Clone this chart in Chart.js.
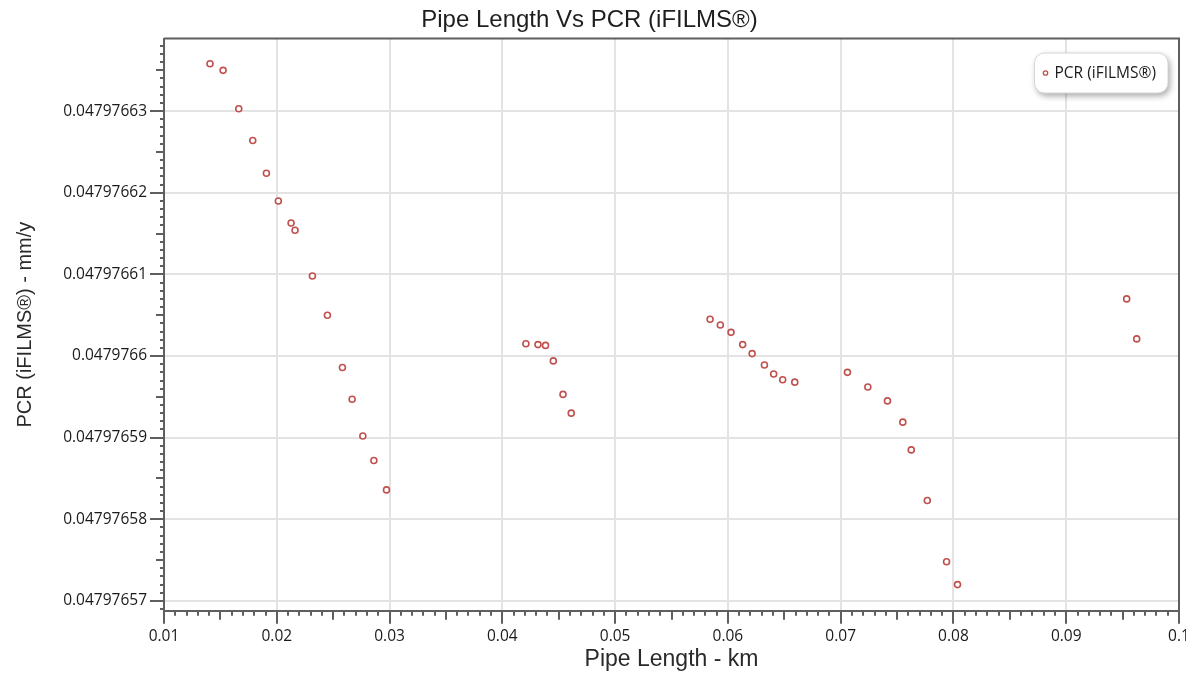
<!DOCTYPE html>
<html>
<head>
<meta charset="utf-8">
<title>Pipe Length Vs PCR</title>
<script src="https://cdn.jsdelivr.net/npm/chart.js@4/dist/chart.umd.min.js"></script>
<style>
  html, body { margin: 0; padding: 0; background: #fff; }
  #wrap { width: 1186px; height: 677px; position: relative; }
</style>
</head>
<body>
<div id="wrap"><canvas id="pcr-chart"></canvas></div>
<script>
const CHART_TITLE = "Pipe Length Vs PCR (iFILMS®)";
const SERIES_LABEL = "PCR (iFILMS®)";
const X_TITLE = "Pipe Length - km";
const Y_TITLE = "PCR (iFILMS®) - mm/y";

// pipe length (km)
const pipeLength = [
  0.01408, 0.01524, 0.01663, 0.01787, 0.01908, 0.02014, 0.02127, 0.02162, 0.02316, 0.02449,
  0.02582, 0.02668, 0.02763, 0.02861, 0.02973,
  0.04209, 0.04316, 0.04383, 0.04452, 0.04538, 0.04611,
  0.05842, 0.05933, 0.06028, 0.06131, 0.06215, 0.06324, 0.06406, 0.06486, 0.06593,
  0.07060, 0.07241, 0.07415, 0.07551, 0.07626, 0.07768, 0.07939, 0.08036,
  0.09536, 0.09625
];
// PCR (mm/y)
const pcr = [
  0.0479766358, 0.0479766350, 0.0479766303, 0.0479766264, 0.0479766224, 0.0479766190, 0.0479766163, 0.0479766154, 0.0479766098, 0.0479766050,
  0.0479765986, 0.0479765947, 0.0479765902, 0.0479765872, 0.0479765836,
  0.0479766015, 0.0479766014, 0.0479766013, 0.0479765994, 0.0479765953, 0.0479765930,
  0.0479766045, 0.0479766038, 0.0479766029, 0.0479766014, 0.0479766003, 0.0479765989, 0.0479765978, 0.0479765971, 0.0479765968,
  0.0479765980, 0.0479765962, 0.0479765945, 0.0479765919, 0.0479765885, 0.0479765823, 0.0479765748, 0.0479765720,
  0.0479766070, 0.0479766021
];

const xTicks = [0.01, 0.02, 0.03, 0.04, 0.05, 0.06, 0.07, 0.08, 0.09, 0.1];
const yTicks = [0.04797657, 0.04797658, 0.04797659, 0.0479766, 0.04797661, 0.04797662, 0.04797663];
const xMin = 0.01, xMax = 0.1;
const yMin = 0.0479765688, yMax = 0.0479766389;
const xMinorStep = 0.001;
const yMinorStep = 1e-9;

const AXIS_COLOR = "#5f5f5f";
const POINT_COLOR = "#c0504d";

// minor / medium / major tick marks plus the top and right frame
const tickMarks = {
  id: "tickMarks",
  beforeDatasetsDraw(chart) {
    const ctx = chart.ctx;
    const area = chart.chartArea;
    const xs = chart.scales.x;
    const ys = chart.scales.y;
    ctx.save();
    ctx.strokeStyle = AXIS_COLOR;
    ctx.lineWidth = 2;

    ctx.beginPath();
    ctx.moveTo(area.left, area.top);
    ctx.lineTo(area.right, area.top);
    ctx.lineTo(area.right, area.bottom);
    ctx.stroke();

    const yk0 = Math.ceil(ys.min / yMinorStep - 1e-6);
    const yk1 = Math.floor(ys.max / yMinorStep + 1e-6);
    for (let k = yk0; k <= yk1; k++) {
      const len = k % 10 === 0 ? 14 : (k % 5 === 0 ? 8 : 4);
      const y = Math.round(ys.getPixelForValue(k * yMinorStep));
      ctx.beginPath();
      ctx.moveTo(area.left - len, y);
      ctx.lineTo(area.left, y);
      ctx.stroke();
    }

    const xk0 = Math.ceil(xs.min / xMinorStep - 1e-6);
    const xk1 = Math.floor(xs.max / xMinorStep + 1e-6);
    for (let k = xk0; k <= xk1; k++) {
      const len = k % 10 === 0 ? 13 : (k % 5 === 0 ? 9 : 5);
      const x = Math.round(xs.getPixelForValue(k * xMinorStep));
      ctx.beginPath();
      ctx.moveTo(x, area.bottom);
      ctx.lineTo(x, area.bottom + len);
      ctx.stroke();
    }
    ctx.restore();
  },
};

// legend box inside the plot, top right
const boxLegend = {
  id: "boxLegend",
  afterDraw(chart) {
    const ctx = chart.ctx;
    const area = chart.chartArea;
    const ds = chart.data.datasets[0];
    ctx.save();
    ctx.font = '15.5px "Open Sans"';
    const textW = ctx.measureText(ds.label).width;
    const w = 20 + textW + 12;
    const h = 40;
    const right = area.right - 11;
    const left = right - w;
    const top = area.top + 14.5;

    ctx.shadowColor = "rgba(0,0,0,0.35)";
    ctx.shadowBlur = 6;
    ctx.shadowOffsetX = 2;
    ctx.shadowOffsetY = 3;
    ctx.fillStyle = "#fff";
    ctx.beginPath();
    ctx.roundRect(left, top, w, h, 10);
    ctx.fill();
    ctx.shadowColor = "transparent";
    ctx.strokeStyle = "#d6d6d6";
    ctx.lineWidth = 1;
    ctx.stroke();

    ctx.beginPath();
    ctx.arc(left + 11, top + h / 2, 2.2, 0, Math.PI * 2);
    ctx.fillStyle = "#fff";
    ctx.fill();
    ctx.strokeStyle = ds.borderColor;
    ctx.lineWidth = 1.3;
    ctx.stroke();

    ctx.fillStyle = "#1a1a1a";
    ctx.textBaseline = "middle";
    ctx.textAlign = "left";
    ctx.fillText(ds.label, left + 20, top + h / 2 + 1);
    ctx.restore();
  },
};

const fmt = (v, d) => String(Number(v.toFixed(d)));

const ctx = document.getElementById("pcr-chart").getContext("2d");
const chart = new Chart(ctx, {
  type: "scatter",
  data: {
    datasets: [
      {
        label: SERIES_LABEL,
        data: pipeLength.map((x, i) => ({ x: x, y: pcr[i] })),
        pointStyle: "circle",
        pointRadius: 3,
        pointBorderWidth: 1.6,
        borderColor: POINT_COLOR,
        backgroundColor: "#fff",
        pointHoverRadius: 3,
      },
    ],
  },
  plugins: [tickMarks, boxLegend],
  options: {
    responsive: true,
    maintainAspectRatio: false,
    animation: false,
    layout: { padding: { top: 0, left: 0, right: 7, bottom: 0 } },
    plugins: {
      legend: { display: false },
      tooltip: { enabled: false },
      title: {
        display: true,
        text: CHART_TITLE,
        color: "#1e1e1e",
        font: { family: "'Liberation Sans', Arial", size: 24, weight: "normal", lineHeight: 1.1 },
        padding: { top: 7, bottom: 5.1 },
      },
    },
    scales: {
      x: {
        type: "linear",
        position: "bottom",
        min: xMin,
        max: xMax,
        afterBuildTicks: (scale) => {
          scale.ticks = xTicks.map((v) => ({ value: v }));
        },
        afterFit: (scale) => {
          scale.height = 66.3;
          scale.paddingLeft = 0;
          scale.paddingRight = 0;
        },
        ticks: {
          autoSkip: false,
          maxRotation: 0,
          padding: 4,
          color: "#1a1a1a",
          font: { family: "'Open Sans'", size: 15.5 },
          callback: (v) => fmt(v, 4),
        },
        grid: {
          color: "#e3e3e3",
          lineWidth: 2,
          drawTicks: true,
          tickLength: 13,
          tickColor: "transparent",
        },
        border: { display: true, color: AXIS_COLOR, width: 2 },
        title: {
          display: true,
          text: X_TITLE,
          color: "#2a2a2a",
          font: { family: "'Liberation Sans', Arial", size: 23 },
          padding: { top: 0, bottom: 3.5 },
        },
      },
      y: {
        type: "linear",
        position: "left",
        min: yMin,
        max: yMax,
        afterBuildTicks: (scale) => {
          scale.ticks = yTicks.map((v) => ({ value: v }));
        },
        afterFit: (scale) => {
          scale.width = 164;
        },
        ticks: {
          autoSkip: false,
          padding: 3,
          color: "#1a1a1a",
          font: { family: "'Open Sans'", size: 15.5 },
          callback: (v) => fmt(v, 8),
        },
        grid: {
          color: "#e3e3e3",
          lineWidth: 2,
          drawTicks: true,
          tickLength: 14,
          tickColor: "transparent",
        },
        border: { display: true, color: AXIS_COLOR, width: 2 },
        title: {
          display: true,
          text: Y_TITLE,
          color: "#2a2a2a",
          font: { family: "'Liberation Sans', Arial", size: 20 },
          padding: { top: 13, bottom: 0 },
        },
      },
    },
  },
});
</script>
</body>
</html>
